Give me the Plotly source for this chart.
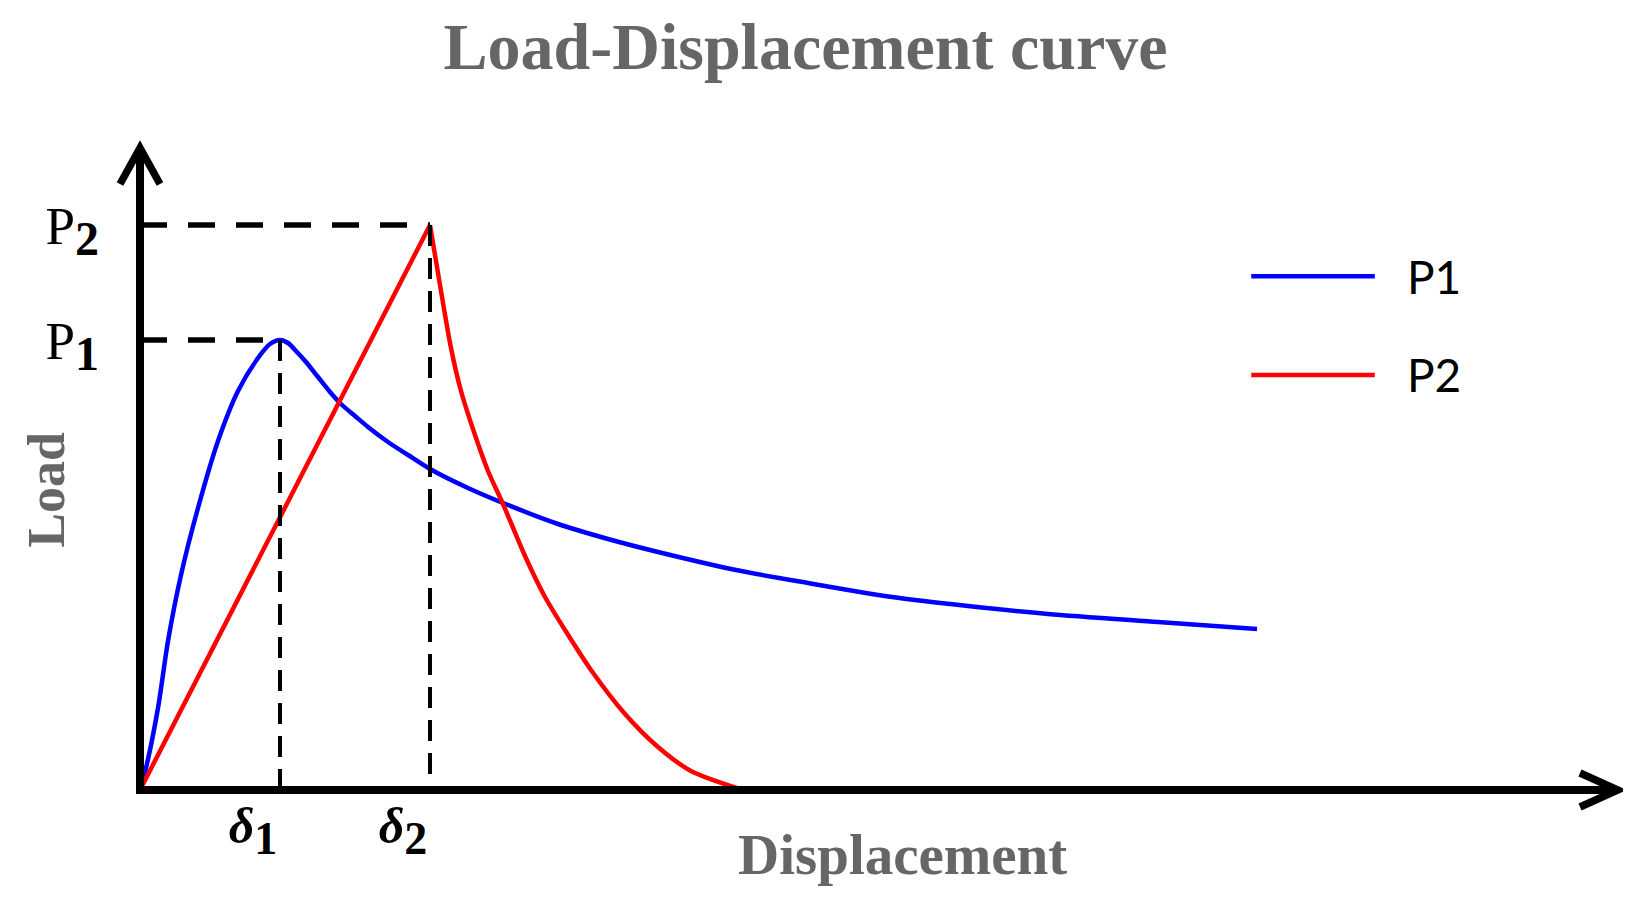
import plotly.graph_objects as go

# ---------------- data ----------------
disp_p1 = [0.00, 0.06, 0.18, 0.28, 0.41, 0.58, 0.78, 0.98, 1.18, 1.30, 1.40, 1.48,
           1.56, 1.66, 1.78, 1.90, 2.01, 2.15, 2.28, 2.48, 2.68, 2.90, 3.28, 3.63,
           4.18, 4.68, 5.18, 5.96, 6.68, 7.52, 8.28, 9.08, 10.18, 11.17]
load_p1 = [0.00, 0.22, 0.82, 1.49, 2.15, 2.82, 3.49, 3.99, 4.32, 4.46, 4.50, 4.47,
           4.39, 4.28, 4.13, 3.98, 3.86, 3.74, 3.63, 3.48, 3.35, 3.21, 3.02, 2.87,
           2.66, 2.51, 2.38, 2.20, 2.07, 1.93, 1.84, 1.76, 1.68, 1.61]

disp_p2 = [0.00, 2.90, 3.01, 3.11, 3.21, 3.35, 3.48, 3.63, 3.85, 4.05, 4.25, 4.51,
           4.85, 5.18, 5.51, 6.03]
load_p2 = [0.00, 5.65, 4.99, 4.42, 3.99, 3.55, 3.19, 2.86, 2.34, 1.93, 1.60, 1.20,
           0.76, 0.43, 0.19, 0.00]
P2_PEAK_INDEX = 1   # the red curve is a straight rise to the peak, then a curved drop

peak_disp = [1.40, 2.90]          # delta1, delta2
peak_load = [4.50, 5.65]          # P1, P2
series_names = ["P1", "P2"]
series_colors = ["#0000FF", "#FF0000"]

x_tick_text = ['<b><i>δ</i></b><sub><span style="font-size:46px"><b>1</b></span></sub>',
               '<b><i>δ</i></b><sub><span style="font-size:46px"><b>2</b></span></sub>']
y_tick_text = ['P<sub><span style="font-size:48px"><b>1</b></span></sub>',
               'P<sub><span style="font-size:48px"><b>2</b></span></sub>']

title_text = "Load-Displacement curve"
x_title = "Displacement"
y_title = "Load"

# axis extents (arrow tips)
X_TIP, Y_TIP = 14.78, 6.42
PAD = 0.1
X_SPAN = X_TIP + 2 * PAD
Y_SPAN = Y_TIP + 2 * PAD

# ---------------- figure ----------------
fig = go.Figure()

fig.add_trace(go.Scatter(x=disp_p1, y=load_p1, mode="lines", name=series_names[0],
                         line=dict(color=series_colors[0], width=4.5, shape="spline", smoothing=0.8),
                         showlegend=False, hoverinfo="skip"))
fig.add_trace(go.Scatter(x=disp_p2[:P2_PEAK_INDEX + 1], y=load_p2[:P2_PEAK_INDEX + 1],
                         mode="lines", name=series_names[1], legendgroup="p2",
                         line=dict(color=series_colors[1], width=4.5),
                         showlegend=False, hoverinfo="skip"))
fig.add_trace(go.Scatter(x=disp_p2[P2_PEAK_INDEX:], y=load_p2[P2_PEAK_INDEX:],
                         mode="lines", name=series_names[1], legendgroup="p2",
                         line=dict(color=series_colors[1], width=4.5, shape="spline", smoothing=0.8),
                         showlegend=False, hoverinfo="skip"))

# dashed guide lines from the peaks
for d, p in zip(peak_disp, peak_load):
    fig.add_trace(go.Scatter(x=[0, d], y=[p, p], mode="lines",
                             line=dict(color="black", width=5.5, dash="27px,21px"),
                             showlegend=False, hoverinfo="skip"))
    fig.add_trace(go.Scatter(x=[d, d], y=[p, 0], mode="lines",
                             line=dict(color="black", width=4, dash="21px,12px"),
                             showlegend=False, hoverinfo="skip"))

shapes = [
    # axis lines
    dict(type="line", xref="x", yref="y", x0=-0.04, x1=X_TIP - 0.04, y0=0, y1=0,
         line=dict(color="black", width=8), layer="above"),
    dict(type="line", xref="x", yref="y", x0=0, x1=0, y0=-0.04, y1=Y_TIP - 0.04,
         line=dict(color="black", width=8), layer="above"),
    # arrow heads (paper anchored so they are not clipped)
    dict(type="path", xref="paper", yref="paper", xsizemode="pixel", ysizemode="pixel",
         xanchor=(X_TIP + PAD) / X_SPAN, yanchor=PAD / Y_SPAN,
         path="M -38 17 L 0 0 L -38 -17",
         line=dict(color="black", width=7.5), layer="above"),
    dict(type="path", xref="paper", yref="paper", xsizemode="pixel", ysizemode="pixel",
         xanchor=PAD / X_SPAN, yanchor=(Y_TIP + PAD) / Y_SPAN,
         path="M -20 -36 L 0 0 L 20 -36",
         line=dict(color="black", width=7.5), layer="above"),
]

# manual legend
leg_y = [0.791, 0.642]
annotations = []
for name, col, ly in zip(series_names, series_colors, leg_y):
    shapes.append(dict(type="line", xref="paper", yref="paper", x0=0.7485, x1=0.831,
                       y0=ly, y1=ly, line=dict(color=col, width=4.5)))
    annotations.append(dict(text=name, xref="paper", yref="paper", x=0.851, y=ly,
                            xanchor="left", yanchor="middle", showarrow=False,
                            font=dict(family="Lato", size=46, color="black")))

annotations.append(dict(text=x_title, xref="x", yref="paper", x=7.62, y=-0.083,
                        xanchor="center", yanchor="middle", showarrow=False,
                        font=dict(family="Liberation Serif", size=57, color="#666666",
                                  weight="bold")))
annotations.append(dict(text=y_title, xref="paper", yref="paper", x=-0.056, y=0.469,
                        xanchor="center", yanchor="middle", showarrow=False, textangle=-90,
                        font=dict(family="Liberation Serif", size=52, color="#666666",
                                  weight="bold")))

# plot area: 100 px per data unit, origin at (132, 782)
m_l, m_b = 122, 106
plot_w, plot_h = int(round(X_SPAN * 100)), int(round(Y_SPAN * 100))

fig.update_layout(
    width=1631, height=898,
    margin=dict(l=m_l, r=1631 - m_l - plot_w, t=898 - m_b - plot_h, b=m_b),
    paper_bgcolor="white", plot_bgcolor="white",
    title=dict(text=title_text, x=0.489, y=0.958, xref="container", yref="container",
               xanchor="center", yanchor="middle",
               font=dict(family="Liberation Serif", size=66, color="#666666", weight="bold")),
    xaxis=dict(range=[-PAD, X_TIP + PAD], showgrid=False, zeroline=False, showline=False,
               tickmode="array", tickvals=peak_disp, ticktext=x_tick_text, ticks="",
               ticklabelstandoff=-8, ticklabelshift=-27,
               tickfont=dict(family="Liberation Serif", size=50, color="black")),
    yaxis=dict(range=[-PAD, Y_TIP + PAD], showgrid=False, zeroline=False, showline=False,
               tickmode="array", tickvals=peak_load, ticktext=y_tick_text, ticks="",
               ticklabelstandoff=30,
               tickfont=dict(family="Liberation Serif", size=53, color="black")),
    shapes=shapes,
    annotations=annotations,
    showlegend=False,
)

fig.write_html("out.html")
